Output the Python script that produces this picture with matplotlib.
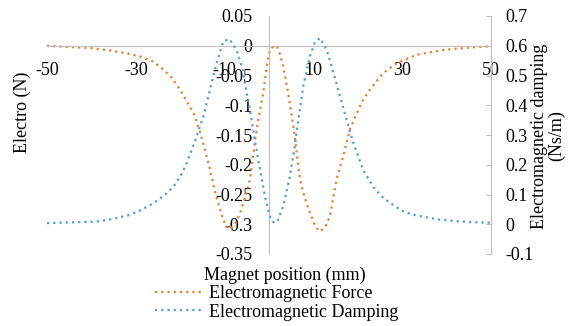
import matplotlib
matplotlib.use("Agg")
import matplotlib.pyplot as plt
from matplotlib.lines import Line2D

# Electromagnetic force (left axis, N) vs magnet position (mm)
force_x = [-50, -45, -40, -35.8, -32, -29, -26, -23.8, -22, -20, -18.5, -17,
           -15.5, -14.3, -13.3, -12, -11, -10, -8.9, -7.7, -6.5, -5.4, -4.3,
           -3.2, -2.4, -1.3, -0.5, 0.2, 1.0, 1.8, 2.5, 3.2, 4.3, 5.5, 7.0, 8.0,
           9.2, 10.5, 11.5, 12.6, 13.7, 15.2, 16.7, 18.2, 19.8, 21.2, 22.7,
           25.7, 28.8, 33.3, 39.3, 45.3, 50]
force_y = [0.000, -0.002, -0.004, -0.008, -0.013, -0.018, -0.027, -0.040,
           -0.053, -0.074, -0.094, -0.113, -0.146, -0.178, -0.208, -0.250,
           -0.276, -0.298, -0.309, -0.300, -0.281, -0.255, -0.225, -0.163,
           -0.124, -0.079, -0.035, -0.007, -0.001, -0.001, -0.015, -0.035,
           -0.079, -0.136, -0.225, -0.255, -0.280, -0.305, -0.312, -0.305,
           -0.287, -0.225, -0.186, -0.141, -0.113, -0.091, -0.074, -0.046,
           -0.029, -0.015, -0.007, -0.003, -0.001]

# Electromagnetic damping (right axis, Ns/m)
damp_x = [-50, -45, -38.8, -35, -31.3, -28.5, -26, -23.5, -21.5, -20, -18.5,
          -16.3, -14.8, -13.3, -11.8, -10.3, -8.9, -7.3, -6.1, -5.0, -3.9,
          -3.2, -2.0, -0.9, 0.2, 1.0, 1.8, 3.2, 4.7, 5.9, 6.6, 7.7, 9.2, 10.3,
          11.5, 13.0, 14.5, 16.0, 17.5, 19.0, 21.2, 23.4, 25.3, 27.3, 30,
          32.5, 38.5, 45.3, 50]
damp_y = [0.004, 0.006, 0.009, 0.018, 0.032, 0.050, 0.071, 0.098, 0.127,
          0.160, 0.206, 0.295, 0.362, 0.452, 0.542, 0.615, 0.622, 0.586,
          0.530, 0.440, 0.350, 0.284, 0.183, 0.093, 0.026, 0.007, 0.007,
          0.060, 0.160, 0.273, 0.350, 0.463, 0.564, 0.610, 0.626, 0.586,
          0.510, 0.430, 0.350, 0.273, 0.183, 0.127, 0.095, 0.071, 0.045,
          0.032, 0.015, 0.007, 0.005]

x_ticks = [-50, -30, -10, 10, 30, 50]
left_ticks = [0.05, 0, -0.05, -0.1, -0.15, -0.2, -0.25, -0.3, -0.35]
right_ticks = [0.7, 0.6, 0.5, 0.4, 0.3, 0.2, 0.1, 0, -0.1]

ORANGE = "#ED7D31"
BLUE = "#5B9BD5"
GRID = "#BFBFBF"
DOT = (0, (1, 1.8))
LW = 1.6
FS = 13

plt.rcParams["font.family"] = ["Liberation Serif", "DejaVu Serif"]

fig = plt.figure(figsize=(5.74, 3.26), dpi=100)
W, H = 574, 326
ax = fig.add_axes([47 / W, 1 - 254 / H, (491 - 47) / W, (254 - 16) / H])
ax2 = ax.twinx()

ax.plot(force_x, force_y, color=ORANGE, lw=LW, ls=DOT, clip_on=False)
ax2.plot(damp_x, damp_y, color=BLUE, lw=LW, ls=DOT, clip_on=False)

ax.set_xlim(-50, 50)
ax.set_ylim(-0.35, 0.05)
ax2.set_ylim(-0.1, 0.7)

# left axis sits at x = 0, x axis at y = 0
for a in (ax, ax2):
    a.spines["top"].set_visible(False)
    a.spines["bottom"].set_visible(False)
    a.patch.set_visible(False)
ax.spines["right"].set_visible(False)
ax2.spines["left"].set_visible(False)
ax.spines["left"].set_position(("data", 0))
ax.spines["left"].set_color(GRID)
ax.spines["bottom"].set_visible(True)
ax.spines["bottom"].set_position(("data", 0))
ax.spines["bottom"].set_color(GRID)
ax2.spines["right"].set_color(GRID)

ax.set_xticks(x_ticks)
ax.set_xticklabels([str(v) for v in x_ticks], fontsize=FS)
ax.set_yticks(left_ticks)
ax.set_yticklabels(["%g" % v for v in left_ticks], fontsize=FS)
ax.tick_params(axis="x", length=0, pad=12)
ax.tick_params(axis="y", length=0, pad=12)

ax2.set_yticks(right_ticks)
ax2.set_yticklabels(["%g" % v for v in right_ticks], fontsize=FS)
ax2.tick_params(axis="y", direction="in", length=3.6, color=GRID, pad=10)

fig.text(22 / W, 1 - 112 / H, "Electro (N)", rotation=90, ha="center",
         va="center", fontsize=FS)
fig.text(548 / W, 1 - 136 / H, "Electromagnetic damping\n(Ns/m)", rotation=90,
         ha="center", va="center", multialignment="center", fontsize=FS,
         linespacing=0.95)
fig.text(285 / W, 1 - 275 / H, "Magnet position (mm)", ha="center",
         va="center", fontsize=FS)

handles = [Line2D([], [], color=ORANGE, lw=LW, ls=DOT),
           Line2D([], [], color=BLUE, lw=LW, ls=DOT)]
fig.legend(handles, ["Electromagnetic Force", "Electromagnetic Damping"],
           loc="upper left", bbox_to_anchor=(155 / W, 1 - 285 / H),
           frameon=False, fontsize=FS, borderpad=0, borderaxespad=0,
           handlelength=2.6, handletextpad=0.4, labelspacing=0.1)

fig.savefig("out.png", dpi=100)
